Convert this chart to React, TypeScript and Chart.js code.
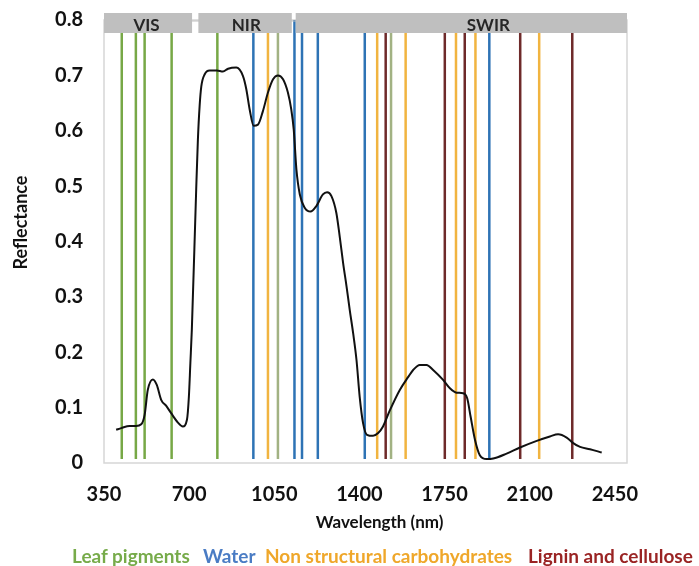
import React, { useEffect, useRef } from "react";
import { Chart, registerables } from "chart.js";

Chart.register(...registerables);

// ---- data ----
const wavelengths = [
  400, 421, 455, 482, 503, 517, 530, 551, 567, 585, 606, 626, 654, 674, 691, 699, 705, 711,
  729, 736, 743, 750, 764, 784, 814, 839, 860, 894, 921, 935, 949, 965, 983, 1003, 1024, 1045,
  1065, 1086, 1106, 1120, 1130, 1141, 1155, 1175, 1199, 1223, 1250, 1267, 1285, 1305, 1319,
  1333, 1347, 1360, 1374, 1388, 1401, 1415, 1431, 1456, 1477, 1497, 1525, 1566, 1600, 1621,
  1648, 1676, 1703, 1744, 1772, 1799, 1826, 1843, 1857, 1875, 1895, 1923, 1950, 2005, 2060,
  2129, 2183, 2217, 2252, 2279, 2307, 2348, 2396,
];
const reflectance = [
  0.06, 0.063, 0.067, 0.067, 0.07, 0.087, 0.132, 0.151, 0.141, 0.114, 0.103, 0.09, 0.073, 0.066,
  0.078, 0.12, 0.18, 0.24, 0.494, 0.584, 0.644, 0.68, 0.702, 0.709, 0.709, 0.707, 0.712, 0.714,
  0.699, 0.675, 0.638, 0.609, 0.611, 0.635, 0.669, 0.693, 0.7, 0.693, 0.669, 0.638, 0.602, 0.53,
  0.485, 0.461, 0.454, 0.464, 0.485, 0.489, 0.482, 0.452, 0.409, 0.361, 0.319, 0.277, 0.235,
  0.186, 0.12, 0.072, 0.051, 0.049, 0.054, 0.066, 0.095, 0.132, 0.155, 0.168, 0.177, 0.177, 0.168,
  0.15, 0.135, 0.127, 0.126, 0.117, 0.084, 0.042, 0.014, 0.007, 0.008, 0.017, 0.028, 0.04, 0.048,
  0.052, 0.046, 0.036, 0.029, 0.025, 0.019,
];

const leafPigmentLines = [423, 481, 517, 628, 816];
const leafPigmentPaleLines = [1065, 1530];
const waterLines = [964, 1133, 1164, 1229, 1422, 1934];
const carbohydrateLines = [1024, 1473, 1590, 1797, 1877, 2139];
const ligninLines = [1508, 1751, 1833, 2061, 2275];
const markerRange = [0.007, 0.8];

const bandNames = ["VIS", "NIR", "SWIR"];
const bandRanges = [
  [350, 712],
  [738, 1122],
  [1138, 2500],
];
const bandLabelAt = [525, 935, 1930];

const xTickValues = [350, 700, 1050, 1400, 1750, 2100, 2450];
const yTickValues = [0, 0.1, 0.2, 0.3, 0.4, 0.5, 0.6, 0.7, 0.8];
const yTickLabels = ["0", "0.1", "0.2", "0.3", "0.4", "0.5", "0.6", "0.7", "0.8"];

const legendItems = [
  { label: "Leaf pigments", color: "#77ab4a", left: 72 },
  { label: "Water", color: "#4a7cc4", left: 203 },
  { label: "Non structural carbohydrates", color: "#efa72a", left: 265 },
  { label: "Lignin and cellulose", color: "#9a2424", left: 528 },
];

const xTitle = "Wavelength (nm)";
const yTitle = "Reflectance";

const FONT = "Lato, 'Open Sans', sans-serif";

function markerData(list: number[]) {
  const out: any[] = [];
  list.forEach((w) => {
    out.push({ x: w, y: markerRange[0] });
    out.push({ x: w, y: markerRange[1] });
    out.push({ x: w, y: null });
  });
  return out;
}

const decorPlugin = {
  id: "decor",
  beforeDatasetsDraw(chart: any) {
    const { ctx, chartArea: ca } = chart;
    ctx.save();
    ctx.strokeStyle = "#d6d6d6";
    ctx.lineWidth = 1.5;
    ctx.strokeRect(ca.left, ca.top, ca.right - ca.left, ca.bottom - ca.top);
    ctx.restore();
  },
  afterDatasetsDraw(chart: any) {
    const { ctx, chartArea: ca } = chart;
    const x = chart.scales.x;
    ctx.save();
    const top = ca.top - 7;
    const h = 20;
    ctx.strokeStyle = "#bfbfbf";
    ctx.lineWidth = 1;
    ctx.beginPath();
    ctx.moveTo(ca.left, top + 8);
    ctx.lineTo(ca.right, top + 8);
    ctx.stroke();
    ctx.fillStyle = "#bfbfbf";
    bandRanges.forEach(([a, b]) => {
      const x0 = x.getPixelForValue(a);
      const x1 = x.getPixelForValue(b);
      ctx.fillRect(x0, top, x1 - x0, h);
    });
    ctx.fillStyle = "#262626";
    ctx.font = `bold 17px ${FONT}`;
    ctx.textAlign = "center";
    ctx.textBaseline = "middle";
    bandNames.forEach((n, i) => {
      ctx.fillText(n, x.getPixelForValue(bandLabelAt[i]), top + 13);
    });

    // axis titles
    ctx.fillStyle = "#111";
    ctx.font = `bold 17px ${FONT}`;
    ctx.fillText(xTitle, (ca.left + ca.right) / 2 + 14, ca.bottom + 60);
    ctx.font = `bold 18px ${FONT}`;
    ctx.translate(21, (ca.top + ca.bottom) / 2 - 19);
    ctx.rotate(-Math.PI / 2);
    ctx.fillText(yTitle, 0, 0);
    ctx.restore();
  },
};

export default function App() {
  const canvasRef = useRef<HTMLCanvasElement | null>(null);

  useEffect(() => {
    if (!canvasRef.current) return;
    const lineDs = (data: any[], color: string) => ({
      type: "line" as const,
      data,
      borderColor: color,
      borderWidth: 2.5,
      pointRadius: 0,
      spanGaps: false,
      tension: 0,
      fill: false,
    });
    const chart = new Chart(canvasRef.current, {
      type: "line",
      data: {
        datasets: [
          {
            data: wavelengths.map((w, i) => ({ x: w, y: reflectance[i] })),
            borderColor: "#111111",
            borderWidth: 2,
            pointRadius: 0,
            cubicInterpolationMode: "monotone",
            fill: false,
          } as any,
          lineDs(markerData(leafPigmentLines), "#77a846"),
          lineDs(markerData(leafPigmentPaleLines), "#a2b283"),
          lineDs(markerData(waterLines), "#2e73b5"),
          lineDs(markerData(carbohydrateLines), "#f1b440"),
          lineDs(markerData(ligninLines), "#6e2a2a"),
        ],
      },
      options: {
        animation: false,
        responsive: false,
        events: [],
        layout: { padding: { left: 0, right: 72, top: 20, bottom: 0 } },
        plugins: { legend: { display: false }, tooltip: { enabled: false } },
        scales: {
          x: {
            type: "linear",
            min: 350,
            max: 2500,
            grid: { display: false, drawTicks: false },
            border: { display: false },
            afterBuildTicks: (s: any) => {
              s.ticks = xTickValues.map((v) => ({ value: v }));
            },
            afterFit: (s: any) => {
              s.height = 103;
              s.paddingLeft = 0;
              s.paddingRight = 0;
            },
            ticks: {
              padding: 20,
              color: "#111",
              font: { family: FONT, size: 20, weight: "bold" },
              maxRotation: 0,
              autoSkip: false,
              callback: (v: any) => String(v),
            },
          },
          y: {
            type: "linear",
            min: 0,
            max: 0.8,
            grid: { display: false, drawTicks: false },
            border: { display: false },
            afterBuildTicks: (s: any) => {
              s.ticks = yTickValues.map((v) => ({ value: v }));
            },
            afterFit: (s: any) => {
              s.width = 104;
              s.paddingTop = 0;
              s.paddingBottom = 0;
            },
            ticks: {
              padding: 21,
              color: "#111",
              font: { family: FONT, size: 20, weight: "bold" },
              callback: (v: any) => {
                const i = yTickValues.findIndex((t) => Math.abs(t - v) < 1e-9);
                return i >= 0 ? yTickLabels[i] : "";
              },
            },
          },
        },
      },
      plugins: [decorPlugin],
    } as any);
    return () => chart.destroy();
  }, []);

  return (
    <div
      style={{
        position: "fixed",
        left: 0,
        top: 0,
        width: 699,
        height: 566,
        background: "#fff",
        overflow: "hidden",
      }}
    >
      <canvas ref={canvasRef} width={699} height={566} style={{ width: 699, height: 566 }} />
      {legendItems.map((it, i) => (
        <div
          key={i}
          style={{
            position: "absolute",
            left: it.left,
            top: 545,
            whiteSpace: "nowrap",
            fontFamily: FONT,
            fontWeight: "bold",
            fontSize: 19,
            lineHeight: "22px",
            color: it.color,
          }}
        >
          {it.label}
        </div>
      ))}
    </div>
  );
}
